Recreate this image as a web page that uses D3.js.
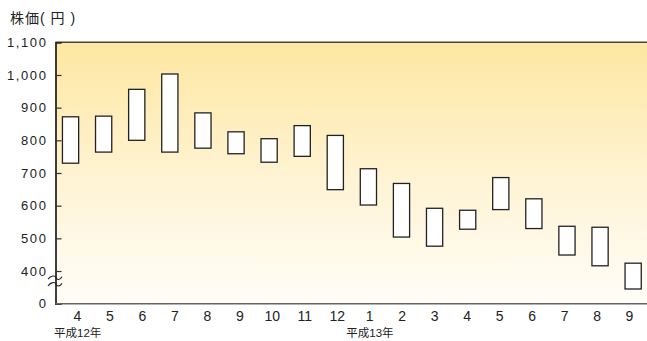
<!DOCTYPE html>
<html><head><meta charset="utf-8">
<script src="https://cdn.jsdelivr.net/npm/d3@7"></script>
<style>body{margin:0;background:#fff;} text{font-family:"Liberation Sans","Noto Sans CJK JP",sans-serif;}</style>
</head><body>
<svg id="c" width="647" height="341"></svg>
<script>
const months = ["4","5","6","7","8","9","10","11","12","1","2","3","4","5","6","7","8","9"];
const highs = [872,874,956,1003,884,826,805,845,815,713,668,592,586,686,621,537,534,424];
const lows  = [730,764,800,764,776,759,733,751,649,602,504,476,528,588,530,449,416,345];
const yTicks = [300,400,500,600,700,800,900,1000,1100];
const yTickLabels = ["0","400","500","600","700","800","900","1,000","1,100"];
const yearLabels = [{idx:0,text:"平成12年"},{idx:9,text:"平成13年"}];
const yTitle = "株価( 円 )";

const svg = d3.select("#c");
const L = 55.5, R = 647, T = 42.3, B = 303.7;
const ids = months.map((m,i)=>i);
const y = d3.scaleLinear().domain([300,1100]).range([B,T]);
const xBar = d3.scaleBand().domain(ids).range([54.0, 649.7]).paddingInner(0.51).paddingOuter(0.255);
const xLab = d3.scalePoint().domain(ids).range([77, 629]);

const defs = svg.append("defs");
const g = defs.append("linearGradient").attr("id","bg").attr("x1",0).attr("y1",0).attr("x2",0).attr("y2",1);
g.append("stop").attr("offset","0%").attr("stop-color","#fee7a1");
g.append("stop").attr("offset","55%").attr("stop-color","#fff4d6");
g.append("stop").attr("offset","100%").attr("stop-color","#fffdf8");
svg.append("rect").attr("x",L).attr("y",T).attr("width",R-L).attr("height",B-T).attr("fill","url(#bg)");

// top border
svg.append("line").attr("x1",L).attr("x2",R).attr("y1",T).attr("y2",T).attr("stroke","#444").attr("stroke-width",1.5);

// y axis
const yAxis = d3.axisRight(y).tickValues(yTicks).tickSize(6).tickFormat("");
const ya = svg.append("g").attr("transform",`translate(${L},0)`).call(yAxis);
ya.select(".domain").attr("stroke","#000").attr("stroke-width",1.5);
ya.selectAll(".tick line").attr("stroke","#333").attr("stroke-width",1.2);
svg.append("g").selectAll("text").data(yTicks).join("text")
  .attr("x",47.5).attr("y",d=>y(d)).attr("dy","0.36em").attr("text-anchor","end")
  .attr("font-size",13).attr("letter-spacing","1.6px").attr("fill","#222")
  .text((d,i)=>yTickLabels[i]);

// break marker
const wave = (yy)=>`M48,${yy+1.5} C51,${yy-2.5} 55,${yy-2.5} 56,${yy} S60,${yy+2.5} 62,${yy-1}`;
svg.append("path").attr("d",wave(277.7)).attr("fill","none").attr("stroke","#222").attr("stroke-width",1.1);
svg.append("path").attr("d",wave(284.3)).attr("fill","none").attr("stroke","#222").attr("stroke-width",1.1);

// bottom axis
const xAxis = d3.axisBottom(xLab).tickSize(0).tickFormat(i=>months[i]);
const xa = svg.append("g").attr("transform",`translate(0,${B})`).call(xAxis);
xa.select(".domain").remove();
xa.selectAll("text").attr("font-size",14).attr("fill","#222").attr("dy","0").attr("y",17);
svg.append("line").attr("x1",L).attr("x2",R).attr("y1",B).attr("y2",B).attr("stroke","#666").attr("stroke-width",1.5);

// bars
svg.append("g").selectAll("rect").data(ids).join("rect")
  .attr("x",i=>xBar(i)).attr("width",xBar.bandwidth())
  .attr("y",i=>y(highs[i])).attr("height",i=>y(lows[i])-y(highs[i]))
  .attr("fill","#fff").attr("stroke","#222").attr("stroke-width",1.3);

// year labels
svg.append("g").selectAll("text").data(yearLabels).join("text")
  .attr("x",d=>xLab(d.idx)-23).attr("y",337)
  .attr("font-size",11.5).attr("fill","#222").text(d=>d.text);

// title
svg.append("text").attr("x",10).attr("y",23).attr("font-size",14).attr("fill","#222")
  .style("white-space","pre").attr("letter-spacing","1px").text(yTitle);
</script>
</body></html>
